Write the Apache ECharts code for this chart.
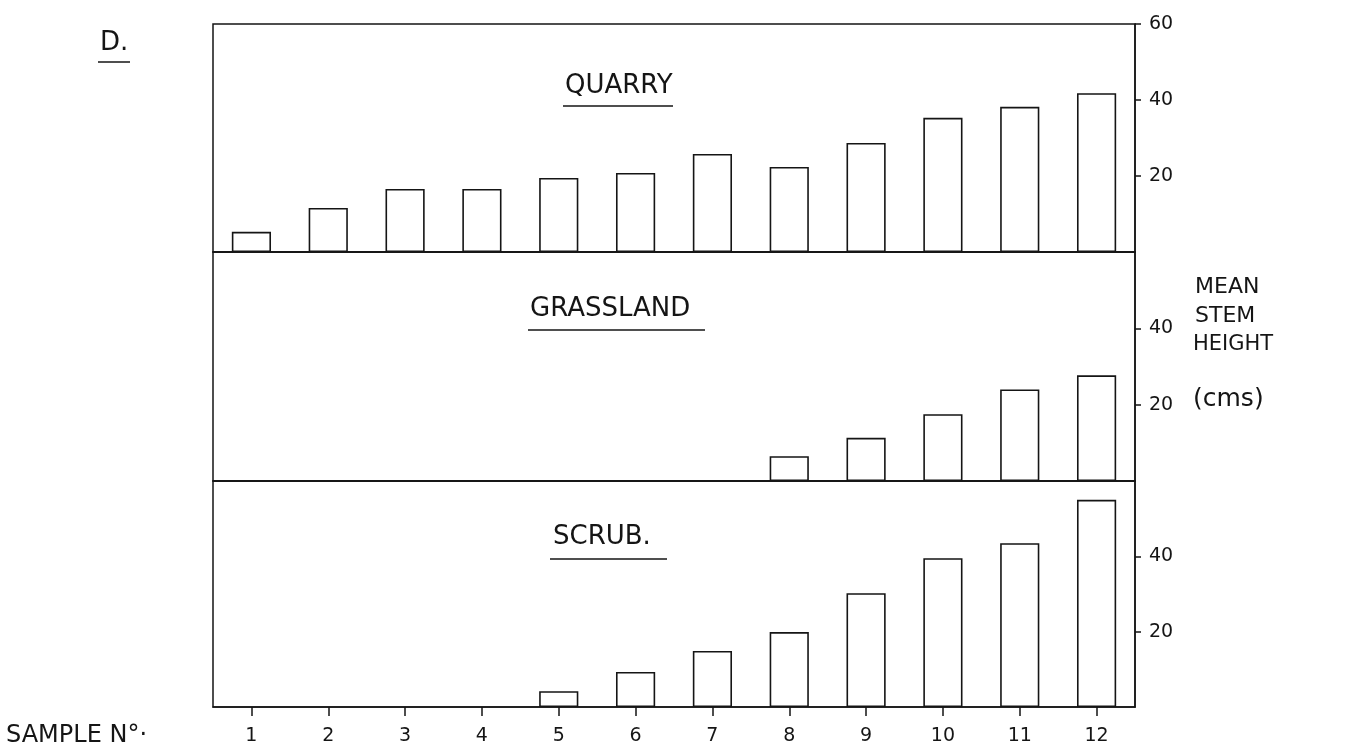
<!DOCTYPE html>
<html>
<head>
<meta charset="utf-8">
<title>Mean stem height</title>
<script src="https://cdn.jsdelivr.net/npm/echarts@6/dist/echarts.min.js"></script>
<style>
  html, body { margin: 0; padding: 0; background: #fff; }
  #chart { width: 1350px; height: 750px; }
</style>
</head>
<body>
<div id="chart"></div>
<script>
// sample numbers along the bottom
const categories = ['1', '2', '3', '4', '5', '6', '7', '8', '9', '10', '11', '12']

// mean stem height (cms) per sample
const quarry = [5.3, 11.6, 16.6, 16.6, 19.5, 20.8, 25.8, 22.4, 28.7, 35.3, 38.2, 41.8]
const grassland = [null, null, null, null, null, null, null, 6.5, 11.3, 17.5, 24, 27.7]
const scrub = [null, null, null, null, 4.2, 9.3, 14.9, 19.9, 30.2, 39.5, 43.5, 55]

const panelNames = ['QUARRY', 'GRASSLAND', 'SCRUB.']
const panelData = [quarry, grassland, scrub]
const topTicks = [20, 40, 60]
const lowerTicks = [20, 40]

const ink = '#151515'
const font = 'DejaVu Sans'

const chart = echarts.init(document.getElementById('chart'))

// panel boxes, stacked
const panels = [
  { top: 24, height: 228 },
  { top: 252, height: 229 },
  { top: 481, height: 226 },
]

chart.setOption({
  backgroundColor: '#fff',
  animation: false,
  grid: panels.map(p => ({
    left: 213,
    right: 215,
    top: p.top,
    height: p.height,
    show: true,
    borderColor: ink,
    borderWidth: 1.5,
    backgroundColor: 'transparent',
  })),
  xAxis: panels.map((p, i) => {
    const last = i === panels.length - 1
    return {
      type: 'category',
      gridIndex: i,
      data: categories,
      axisLine: { show: true, lineStyle: { color: ink, width: 1.5 } },
      axisTick: { show: last, alignWithLabel: true, length: 9, lineStyle: { color: ink, width: 1.5 } },
      axisLabel: { show: last, margin: 20, color: ink, fontSize: 19, fontFamily: font },
      splitLine: { show: false },
    }
  }),
  yAxis: panels.map((p, i) => {
    const ticks = i === 0 ? topTicks : lowerTicks
    return {
      type: 'value',
      gridIndex: i,
      position: 'right',
      min: 0,
      max: 60,
      interval: 20,
      axisLine: { show: true, lineStyle: { color: ink, width: 1.5 } },
      axisTick: { show: true, length: 6, customValues: ticks, lineStyle: { color: ink, width: 1.5 } },
      axisLabel: { show: true, margin: 14, customValues: ticks, color: ink, fontSize: 19, fontFamily: font },
      splitLine: { show: false },
    }
  }),
  series: panelData.map((data, i) => ({
    name: panelNames[i],
    type: 'bar',
    xAxisIndex: i,
    yAxisIndex: i,
    data,
    barWidth: '51%',
    silent: true,
    itemStyle: { color: '#fff', borderColor: ink, borderWidth: 1.6 },
  })),
  graphic: [
    // headings inside panels, underlined by hand in the original
    { type: 'text', left: 565, top: 73, style: { text: 'QUARRY', font: `26px "${font}"`, fill: ink } },
    { type: 'line', shape: { x1: 563, y1: 106, x2: 673, y2: 106 }, style: { stroke: ink, lineWidth: 1.5 } },
    { type: 'text', left: 530, top: 296, style: { text: 'GRASSLAND', font: `26px "${font}"`, fill: ink } },
    { type: 'line', shape: { x1: 528, y1: 330, x2: 705, y2: 330 }, style: { stroke: ink, lineWidth: 1.5 } },
    { type: 'text', left: 553, top: 524, style: { text: 'SCRUB.', font: `26px "${font}"`, fill: ink } },
    { type: 'line', shape: { x1: 550, y1: 559, x2: 667, y2: 559 }, style: { stroke: ink, lineWidth: 1.5 } },

    // figure letter
    { type: 'text', left: 100, top: 30, style: { text: 'D.', font: `26px "${font}"`, fill: ink } },
    { type: 'line', shape: { x1: 98, y1: 62, x2: 130, y2: 62 }, style: { stroke: ink, lineWidth: 1.5 } },

    // y axis name at the right
    { type: 'text', left: 1195, top: 276, style: { text: 'MEAN', font: `22px "${font}"`, fill: ink } },
    { type: 'text', left: 1195, top: 305, style: { text: 'STEM', font: `22px "${font}"`, fill: ink } },
    { type: 'text', left: 1193, top: 334, style: { text: 'HEIGHT', font: `21px "${font}"`, fill: ink } },
    { type: 'text', left: 1193, top: 387, style: { text: '(cms)', font: `25px "${font}"`, fill: ink } },

    // x axis name at the bottom left
    { type: 'text', left: 6, top: 724, style: { text: 'SAMPLE N°·', font: `24px "${font}"`, fill: ink } },
  ],
})
</script>
</body>
</html>
